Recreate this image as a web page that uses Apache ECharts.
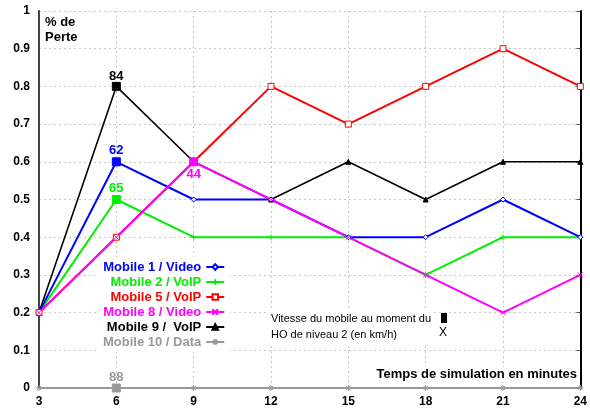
<!DOCTYPE html>
<html>
<head>
<meta charset="utf-8">
<script src="https://cdn.jsdelivr.net/npm/echarts@6/dist/echarts.min.js"></script>
<style>
    html, body {margin: 0; padding: 0; background: #fff;}
    #chart_1 {width: 590px; height: 412px;}
</style>
</head>
<body>
<div id="chart_1"></div>
<script>
// temps de simulation (minutes)
var minutes = [3, 6, 9, 12, 15, 18, 21, 24];

// % de perte par mobile
var mobile1 = [0.2, 0.6, 0.5, 0.5, 0.4, 0.4, 0.5, 0.4];
var mobile2 = [0.2, 0.5, 0.4, 0.4, 0.4, 0.3, 0.4, 0.4];
var mobile5 = [0.2, 0.4, 0.6, 0.8, 0.7, 0.8, 0.9, 0.8];
var mobile8 = [0.2, 0.4, 0.6, 0.5, 0.4, 0.3, 0.2, 0.3];
var mobile9 = [0.2, 0.8, 0.6, 0.5, 0.6, 0.5, 0.6, 0.6];
var mobile10 = [0, 0, 0, 0, 0, 0, 0, 0];

// vitesse au moment du HO de niveau 2 (km/h)
var speed1 = [null, 62, null, null, null, null, null, null];
var speed2 = [null, 65, null, null, null, null, null, null];
var speed5 = [null, null, null, null, null, null, null, null];
var speed8 = [null, null, 44, null, null, null, null, null];
var speed9 = [null, 84, null, null, null, null, null, null];
var speed10 = [null, 88, null, null, null, null, null, null];

var names = ['Mobile 1 / Video', 'Mobile 2 / VoIP', 'Mobile 5 / VoIP', 'Mobile 8 / Video', 'Mobile 9 /  VoIP', 'Mobile 10 / Data'];

var plusPath = 'path://M0,5L10,5M5,0L5,10';
var crossPath = 'path://M0,0L10,10M10,0L0,10';
var starPath = 'path://M0,5L10,5M5,0L5,10M1.5,1.5L8.5,8.5M8.5,1.5L1.5,8.5';

function buildData(values, speeds, color, pos, shift) {
    var d = [];
    for (var i = 0; i < values.length; i++) {
        if (speeds[i] != null) {
            d.push({
                value: [minutes[i], values[i]],
                symbol: 'rect',
                symbolSize: 8,
                itemStyle: {color: color, borderColor: color},
                label: {
                    show: true,
                    formatter: String(speeds[i]),
                    position: pos,
                    distance: pos == 'top' ? 0 : 2,
                    offset: [0, shift || 0],
                    color: color,
                    fontSize: 13,
                    fontWeight: 'bold',
                    fontFamily: 'Liberation Sans'
                }
            });
        } else {
            d.push([minutes[i], values[i]]);
        }
    }
    return d;
}

function makeSeries(name, values, speeds, color, symbol, size, width, pos, empty, shift) {
    return {
        name: name,
        type: 'line',
        symbol: symbol,
        symbolSize: size,
        showAllSymbol: true,
        animation: false,
        lineStyle: {color: color, width: width},
        itemStyle: {color: empty ? '#fff' : color, borderColor: color, borderWidth: 1},
        data: buildData(values, speeds, color, pos, shift)
    };
}

var series = [
    makeSeries(names[5], mobile10, speed10, '#999999', starPath, 6, 2, 'top', false, 0),
    makeSeries(names[4], mobile9, speed9, '#000000', 'triangle', 5, 1.6, 'top', false, 1),
    makeSeries(names[1], mobile2, speed2, '#00ee00', plusPath, 6, 2, 'top', false, 0),
    makeSeries(names[0], mobile1, speed1, '#0000ff', 'diamond', 5, 2, 'top', true, 0),
    makeSeries(names[2], mobile5, speed5, '#ff0000', 'rect', 6, 2, 'top', true, 0),
    makeSeries(names[3], mobile8, speed8, '#ff00ff', crossPath, 5, 2, 'bottom', false, 0)
];

var legendColors = ['#0000ff', '#00ee00', '#ff0000', '#ff00ff', '#000000', '#999999'];
var legendData = names.map(function (n, i) {
    return {name: n, textStyle: {color: legendColors[i]}};
});

var gridLine = {show: true, lineStyle: {color: '#c8c8c8', type: [2, 3]}};

var myChart = echarts.init(document.getElementById('chart_1'));
var option = {
    backgroundColor: '#fff',
    animation: false,
    grid: {
        left: 39,
        right: 7,
        top: 11,
        bottom: 24
    },
    legend: {
        orient: 'vertical',
        align: 'right',
        left: 98,
        top: 257,
        padding: [3, 5],
        itemWidth: 18,
        itemHeight: 7,
        itemGap: 1,
        backgroundColor: '#fff',
        textStyle: {
            fontSize: 13,
            fontWeight: 'bold',
            fontFamily: 'Liberation Sans',
            lineHeight: 14
        },
        data: legendData
    },
    xAxis: [
        {
            type: 'value',
            min: 3,
            max: 24,
            interval: 3,
            axisLine: {lineStyle: {color: '#777', width: 2}},
            axisTick: {show: false},
            axisLabel: {color: '#000', fontWeight: 'bold', fontSize: 12, fontFamily: 'Liberation Sans', margin: 8},
            splitLine: gridLine
        },
        {
            type: 'value',
            position: 'top',
            min: 3,
            max: 24,
            interval: 3,
            axisLine: {show: true, lineStyle: {color: '#666', width: 1.5}},
            axisTick: {show: false},
            axisLabel: {show: false},
            splitLine: {show: false}
        }
    ],
    yAxis: [
        {
            type: 'value',
            min: 0,
            max: 1,
            interval: 0.1,
            axisLine: {show: true, lineStyle: {color: '#444', width: 2}},
            axisTick: {show: false},
            axisLabel: {color: '#000', fontWeight: 'bold', fontSize: 12, fontFamily: 'Liberation Sans', margin: 9},
            splitLine: gridLine
        },
        {
            type: 'value',
            position: 'right',
            min: 0,
            max: 1,
            interval: 0.1,
            axisLine: {show: true, lineStyle: {color: '#000', width: 2}},
            axisTick: {show: true, inside: true, length: 4, lineStyle: {color: '#555'}},
            axisLabel: {show: false},
            splitLine: {show: false}
        }
    ],
    graphic: [
        {
            type: 'text', left: 45, top: 15, z: 100,
            style: {text: '% de\nPerte', fill: '#000', font: 'bold 13px "Liberation Sans"', lineHeight: 15}
        },
        {
            type: 'text', right: 11, top: 367, z: 100,
            style: {text: 'Temps de simulation en minutes', fill: '#000', font: 'bold 13px "Liberation Sans"',
                backgroundColor: '#fff', padding: [1, 2]}
        },
        {
            type: 'text', left: 269, top: 310, z: 100,
            style: {text: 'Vitesse du mobile au moment du\nHO de niveau 2 (en km/h)', fill: '#000',
                font: '11px "Liberation Sans"', lineHeight: 16, backgroundColor: '#fff', padding: [1, 2]}
        },
        {
            type: 'rect', left: 441, top: 313, z: 100,
            shape: {width: 6, height: 10}, style: {fill: '#000'}
        },
        {
            type: 'text', left: 439, top: 327, z: 100,
            style: {text: 'X', fill: '#000', font: '12px "Liberation Sans"'}
        }
    ],
    series: series
};

myChart.setOption(option);
</script>
</body>
</html>
